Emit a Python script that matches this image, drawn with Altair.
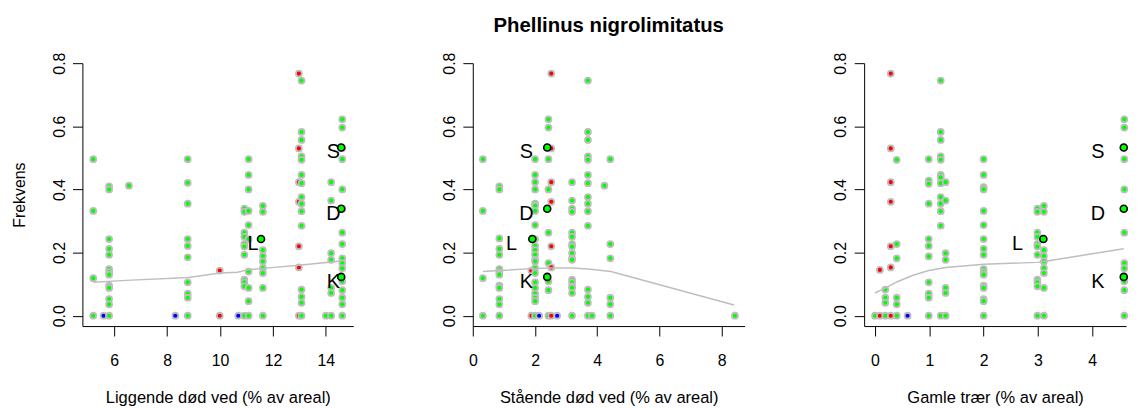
import altair as alt
import pandas as pd

FONT = "Liberation Sans"
GREY = "#BEBEBE"

# ---------------- data ----------------
# Panel 1: Liggende død ved (% av areal)
lig_col_x = [5.21, 5.60, 5.81, 6.56, 8.31, 8.78, 9.99, 10.69, 10.92, 11.08, 11.62, 12.98, 13.08, 14.0, 14.2, 14.62]
lig_col_c = ["g", "b", "g", "g", "b", "g", "r", "b", "g", "g", "g", "r", "g", "g", "g", "g"]
lig_col_y = [
    [0.496, 0.332, 0.119, 0.0],
    [0.0],
    [0.41, 0.40, 0.243, 0.212, 0.193, 0.148, 0.138, 0.13, 0.095, 0.088, 0.053, 0.036, 0.0],
    [0.412],
    [0.0],
    [0.496, 0.421, 0.355, 0.243, 0.221, 0.185, 0.106, 0.07, 0.057, 0.0],
    [0.143, 0.0],
    [0.0],
    [0.339, 0.329, 0.263, 0.25, 0.227, 0.219, 0.193, 0.114, 0.106, 0.093, 0.0],
    [0.496, 0.446, 0.4, 0.332, 0.287, 0.243, 0.14, 0.088, 0.046, 0.0],
    [0.348, 0.329, 0.208, 0.189, 0.172, 0.151, 0.135, 0.088, 0.0],
    [0.767, 0.53, 0.423, 0.361, 0.22, 0.153, 0.0],
    [0.745, 0.582, 0.557, 0.505, 0.494, 0.446, 0.42, 0.376, 0.355, 0.331, 0.285, 0.083, 0.06, 0.041, 0.0],
    [0.0],
    [0.423, 0.365, 0.198, 0.177, 0.088, 0.072, 0.0],
    [0.622, 0.596, 0.531, 0.496, 0.4, 0.339, 0.263, 0.227, 0.182, 0.167, 0.15, 0.109, 0.081, 0.057, 0.036, 0.0],
]
lig_low_x = [5.21, 6.46, 8.8, 10.0, 10.66, 11.08, 11.62, 12.98, 14.58]
lig_low_y = [0.106, 0.112, 0.121, 0.135, 0.138, 0.146, 0.150, 0.160, 0.173]

# Panel 2: Stående død ved (% av areal)
sta_col_x = [0.32, 0.85, 1.88, 2.0, 2.13, 2.43, 2.52, 2.71, 3.19, 3.70, 3.83, 4.23, 4.42, 8.43]
sta_col_c = ["g", "g", "r", "g", "b", "g", "r", "b", "g", "g", "g", "g", "g", "g"]
sta_col_y = [
    [0.496, 0.332, 0.119, 0.0],
    [0.41, 0.40, 0.245, 0.212, 0.193, 0.148, 0.138, 0.13, 0.095, 0.088, 0.053, 0.036, 0.0],
    [0.143, 0.0],
    [0.496, 0.446, 0.423, 0.4, 0.355, 0.348, 0.332, 0.287, 0.243, 0.221, 0.208, 0.193, 0.177,
     0.172, 0.151, 0.135, 0.106, 0.088, 0.07, 0.057, 0.046, 0.0],
    [0.0],
    [0.622, 0.596, 0.496, 0.4, 0.263, 0.167, 0.109, 0.081, 0.0],
    [0.767, 0.53, 0.423, 0.361, 0.22, 0.153, 0.0],
    [0.0],
    [0.423, 0.365, 0.339, 0.329, 0.263, 0.25, 0.227, 0.219, 0.198, 0.182, 0.177, 0.114, 0.106,
     0.093, 0.088, 0.072, 0.0],
    [0.745, 0.582, 0.557, 0.505, 0.494, 0.446, 0.42, 0.376, 0.355, 0.331, 0.285, 0.083, 0.06, 0.041, 0.0],
    [0.0],
    [0.412],
    [0.496, 0.227, 0.182, 0.057, 0.036, 0.0],
    [0.0],
]
sta_low_x = [0.32, 0.85, 2.02, 2.43, 3.19, 3.70, 4.44, 8.40]
sta_low_y = [0.140, 0.143, 0.150, 0.151, 0.151, 0.148, 0.140, 0.034]

# Panel 3: Gamle trær (% av areal)
gam_col_x = [0.0, 0.09, 0.19, 0.29, 0.40, 0.60, 0.99, 1.21, 1.30, 2.0, 2.99, 3.11, 4.59]
gam_col_c = ["g", "r", "g", "r", "g", "b", "g", "g", "g", "g", "g", "g", "g"]
gam_col_y = [
    [0.0],
    [0.145, 0.0],
    [0.083, 0.057, 0.041, 0.0],
    [0.767, 0.53, 0.423, 0.361, 0.22, 0.153, 0.0],
    [0.494, 0.227, 0.182, 0.057, 0.036, 0.0],
    [0.0],
    [0.496, 0.428, 0.418, 0.355, 0.243, 0.221, 0.188, 0.106, 0.07, 0.057, 0.0],
    [0.745, 0.582, 0.557, 0.505, 0.494, 0.446, 0.438, 0.42, 0.376, 0.355, 0.331, 0.285, 0.0],
    [0.423, 0.365, 0.198, 0.177, 0.088, 0.072, 0.0],
    [0.496, 0.446, 0.407, 0.4, 0.332, 0.287, 0.243, 0.212, 0.193, 0.148, 0.138, 0.13, 0.095,
     0.088, 0.053, 0.046, 0.0],
    [0.339, 0.329, 0.263, 0.25, 0.227, 0.219, 0.193, 0.114, 0.106, 0.093, 0.0],
    [0.348, 0.329, 0.208, 0.189, 0.172, 0.151, 0.135, 0.088, 0.0],
    [0.622, 0.596, 0.496, 0.4, 0.263, 0.167, 0.15, 0.109, 0.081, 0.0],
]
gam_low_x = [0.0, 0.2, 0.4, 0.7, 0.99, 1.3, 2.0, 2.99, 3.11, 4.58]
gam_low_y = [0.072, 0.088, 0.107, 0.128, 0.143, 0.153, 0.163, 0.169, 0.172, 0.212]

# Labelled sites
lab_names = ["S", "D", "K", "L"]
lab_y = [0.533, 0.339, 0.123, 0.243]
lig_lab_x = [14.58, 14.58, 14.58, 11.55]
sta_lab_x = [2.39, 2.39, 2.39, 1.91]
gam_lab_x = [4.58, 4.58, 4.58, 3.10]

y_ticks = [0.0, 0.2, 0.4, 0.6, 0.8]
lig_ticks = [6, 8, 10, 12, 14]
sta_ticks = [0, 2, 4, 6, 8]
gam_ticks = [0, 1, 2, 3, 4]

color_domain = ["g", "r", "b"]
color_range = ["#00FF00", "#FF0000", "#0000FF"]

# ---------------- helpers ----------------
def flatten(col_x, col_y, col_c):
    rows = []
    for x, ys, c in zip(col_x, col_y, col_c):
        for y in ys:
            rows.append({"x": x, "y": y, "c": c})
    return pd.DataFrame(rows)


PH = 265
YDOM = [-0.0327, 0.8]


def panel(df, low_x, low_y, lab_x, xdom, xticks, xtitle, ytitle, dx, pw):
    xaxis = alt.Axis(values=xticks, title=xtitle, labelBaseline="alphabetic",
                     labelPadding=29.5, titleBaseline="alphabetic", titleY=76.6,
                     labelFlush=False, labelOverlap=False, format="d", titleFontSize=16.6)
    yargs = dict(values=y_ticks, format=".1f", labelAngle=270, labelAlign="center",
                 labelBaseline="alphabetic", labelPadding=8.3, labelFlush=False,
                 labelOverlap=False)
    if ytitle:
        yaxis = alt.Axis(title=ytitle, titleAngle=270, titleAlign="center",
                         titleBaseline="alphabetic", titleX=-58.3, titleY=PH / 2, **yargs)
    else:
        yaxis = alt.Axis(title=None, **yargs)
    X = alt.X("x:Q", scale=alt.Scale(domain=xdom, nice=False, zero=False), axis=xaxis)
    Y = alt.Y("y:Q", scale=alt.Scale(domain=YDOM, nice=False, zero=False), axis=yaxis)

    pts = alt.Chart(df).mark_circle(size=36, opacity=1, stroke=GREY, strokeWidth=1.8).encode(
        x=X, y=Y,
        fill=alt.Fill("c:N", scale=alt.Scale(domain=color_domain, range=color_range), legend=None),
    )
    low = alt.Chart(pd.DataFrame({"x": low_x, "y": low_y})).mark_line(
        color=GREY, strokeWidth=1.5).encode(x=X, y=Y)
    lab_df = pd.DataFrame({"x": lab_x, "y": lab_y, "lab": lab_names})
    big = alt.Chart(lab_df).mark_circle(size=50, opacity=1, fill="#00FF00", stroke="black",
                                        strokeWidth=1.6).encode(x=X, y=Y)
    txt = alt.Chart(lab_df).mark_text(font=FONT, fontSize=20, color="black", dx=dx, dy=5,
                                      align="center", baseline="middle").encode(
        x=X, y=Y, text="lab:N")
    return alt.layer(pts, low, big, txt).properties(width=pw, height=PH)


p1 = panel(flatten(lig_col_x, lig_col_y, lig_col_c), lig_low_x, lig_low_y, lig_lab_x,
           [4.80, 15.034], lig_ticks, "Liggende død ved (% av areal)", "Frekvens", -8, 273)
p2 = panel(flatten(sta_col_x, sta_col_y, sta_col_c), sta_low_x, sta_low_y, sta_lab_x,
           [-0.005, 8.741], sta_ticks, "Stående død ved (% av areal)", None, -21, 274)
p2 = p2.properties(title=alt.TitleParams("Phellinus nigrolimitatus", font=FONT, fontSize=20.5,
                                         fontWeight="bold", anchor="middle", frame="group",
                                         offset=0, baseline="alphabetic", color="black"))
p3 = panel(flatten(gam_col_x, gam_col_y, gam_col_c), gam_low_x, gam_low_y, gam_lab_x,
           [-0.2, 4.622], gam_ticks, "Gamle trær (% av areal)", None, -26, 264)

chart = alt.hconcat(p1, p2, p3, spacing=120.5, bounds="flush").properties(
    padding={"left": 3, "top": 6, "right": 0, "bottom": 0},
    background="white",
).configure_view(stroke=None).configure_axis(
    grid=False, domainColor="black", tickColor="black", labelColor="black", titleColor="black",
    labelFont=FONT, titleFont=FONT, labelFontSize=16, titleFontSize=16,
    titleFontWeight="normal", tickSize=10, domainWidth=1, tickWidth=1,
)

chart.save("out.html", embed_options={"renderer": "svg", "actions": False})
